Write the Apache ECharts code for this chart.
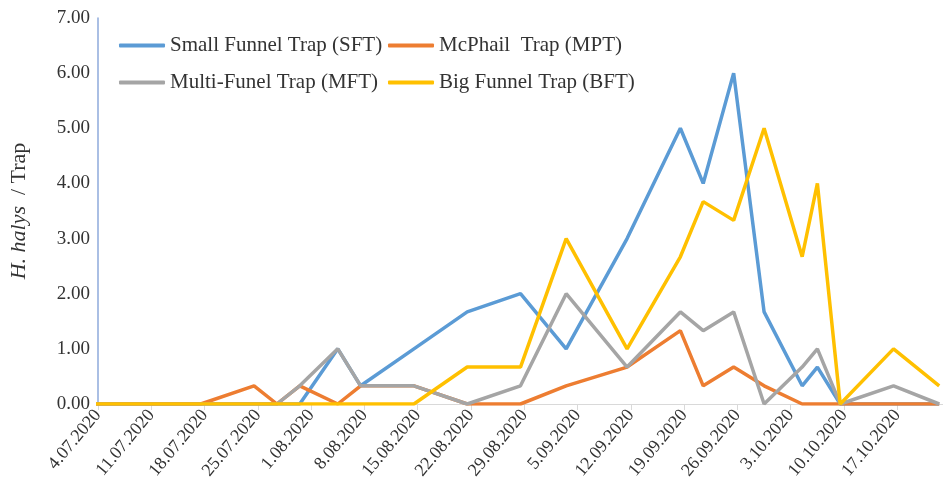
<!DOCTYPE html>
<html>
<head>
<meta charset="utf-8">
<title>H. halys per trap</title>
<script src="https://cdn.jsdelivr.net/npm/echarts@6/dist/echarts.min.js"></script>
<style>
  html, body { margin: 0; padding: 0; background: #fff; }
  #chart { width: 943px; height: 497px; }
</style>
</head>
<body>
<div id="chart"></div>
<script>
// sampling dates, as written in the sheet (D.MM.YYYY)
var dates = ["3.07.2020", "10.07.2020", "17.07.2020", "24.07.2020", "27.07.2020", "30.07.2020",
  "4.08.2020", "7.08.2020", "14.08.2020", "21.08.2020", "28.08.2020", "3.09.2020",
  "11.09.2020", "18.09.2020", "21.09.2020", "25.09.2020", "29.09.2020", "4.10.2020",
  "6.10.2020", "9.10.2020", "16.10.2020", "22.10.2020"];

// catches per trap
var sft = [0, 0, 0, 0, 0, 0, 1.00, 0.33, 1.00, 1.67, 2.00, 1.00, 3.00, 5.00, 4.00, 6.00, 1.67, 0.33, 0.67, 0, 0, 0];
var mpt = [0, 0, 0, 0.33, 0, 0.33, 0, 0.33, 0.33, 0, 0, 0.33, 0.67, 1.33, 0.33, 0.67, 0.33, 0, 0, 0, 0, 0];
var mft = [0, 0, 0, 0, 0, 0.33, 1.00, 0.33, 0.33, 0, 0.33, 2.00, 0.67, 1.67, 1.33, 1.67, 0, 0.67, 1.00, 0, 0.33, 0];
var bft = [0, 0, 0, 0, 0, 0, 0, 0, 0, 0.67, 0.67, 3.00, 1.00, 2.67, 3.67, 3.33, 5.00, 2.67, 4.00, 0, 1.00, 0.33];

// weekly labels on the date axis
var weekLabels = ["4.07.2020", "11.07.2020", "18.07.2020", "25.07.2020", "1.08.2020", "8.08.2020",
  "15.08.2020", "22.08.2020", "29.08.2020", "5.09.2020", "12.09.2020", "19.09.2020",
  "26.09.2020", "3.10.2020", "10.10.2020", "17.10.2020"];

var names = ["Small Funnel Trap (SFT)", "McPhail  Trap (MPT)", "Multi-Funel Trap (MFT)", "Big Funnel Trap (BFT)"];
var colors = ["#5b9bd5", "#ed7d31", "#a5a5a5", "#ffc000"];

var FONT = "'Liberation Serif', 'Times New Roman', serif";

// days since 4.07.2020; excel puts each date in the middle of its day slot
function dayOf(s) {
  var p = s.split(".");
  var t = Date.UTC(+p[2], +p[1] - 1, +p[0]);
  return (t - Date.UTC(2020, 6, 4)) / 86400000;
}

function pairs(vals) {
  return vals.map(function (v, i) {
    return [dayOf(dates[i]) + 0.5, v];
  });
}

var chart = echarts.init(document.getElementById("chart"));

// one legend per entry so the 2x2 layout sits where the original has it
function legendAt(name, left, top) {
  return {
    data: [name],
    left: left,
    top: top,
    icon: "roundRect",
    itemWidth: 46,
    itemHeight: 4,
    itemGap: 0,
    textStyle: {fontFamily: FONT, fontSize: 21, color: "#333"}
  };
}

var series = [sft, mpt, mft, bft].map(function (vals, i) {
  return {
    name: names[i],
    type: "line",
    data: pairs(vals),
    symbol: "none",
    lineStyle: {width: 3.5, color: colors[i]},
    itemStyle: {color: colors[i]},
    z: 2 + i
  };
});

var option = {
  animation: false,
  color: colors,
  grid: {left: 96, right: 0, top: 18, bottom: 93},
  legend: [
    legendAt(names[0], 114, 30),
    legendAt(names[1], 383, 30),
    legendAt(names[2], 114, 67),
    legendAt(names[3], 383, 67)
  ],
  xAxis: {
    type: "value",
    min: 0,
    max: 111,
    interval: 7,
    splitLine: {show: false},
    axisLine: {lineStyle: {color: "#d9d9d9", width: 1}},
    axisTick: {show: true, length: 6, lineStyle: {color: "#d9d9d9"}},
    axisLabel: {
      rotate: 50,
      margin: 8,
      showMaxLabel: false,
      fontFamily: FONT,
      fontSize: 18,
      color: "#333",
      formatter: function (v) {
        return weekLabels[Math.round(v / 7)] || "";
      }
    }
  },
  yAxis: {
    type: "value",
    min: 0,
    max: 7,
    interval: 1,
    name: "{i|H. halys}{n|  / Trap}",
    nameLocation: "middle",
    nameGap: 68,
    nameRotate: 90,
    nameTextStyle: {
      rich: {
        i: {fontFamily: FONT, fontSize: 22, fontStyle: "italic", color: "#333"},
        n: {fontFamily: FONT, fontSize: 22, color: "#333"}
      }
    },
    splitLine: {show: false},
    axisLine: {show: true, lineStyle: {color: "#8eaadb", width: 1.5}},
    axisTick: {show: false},
    axisLabel: {
      fontFamily: FONT,
      fontSize: 19,
      color: "#333",
      margin: 8,
      formatter: function (v) { return v.toFixed(2); }
    }
  },
  series: series
};

chart.setOption(option);
</script>
</body>
</html>
